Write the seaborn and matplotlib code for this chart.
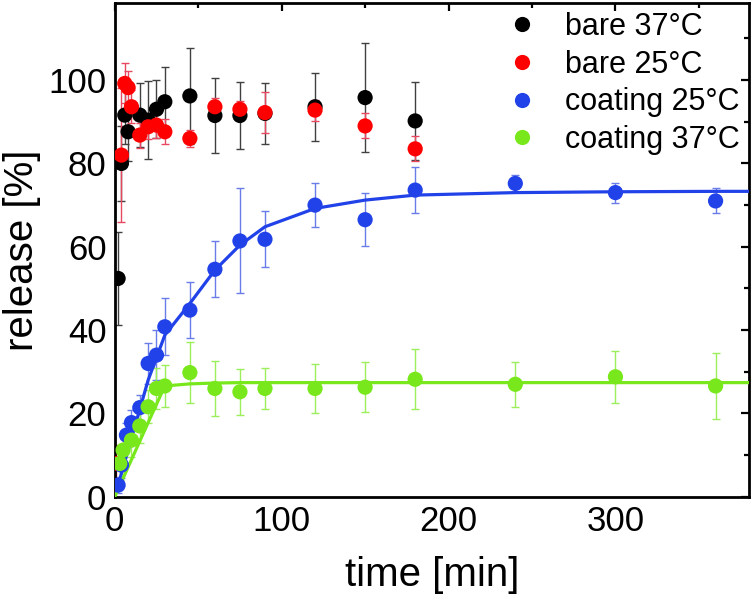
import numpy as np
import pandas as pd
import matplotlib
matplotlib.use('Agg')
import matplotlib.pyplot as plt
import seaborn as sns
from matplotlib.ticker import MultipleLocator

sns.set_style('white')
plt.rcParams['font.family'] = ['Liberation Sans', 'DejaVu Sans']
plt.rcParams['text.color'] = 'black'
plt.rcParams['axes.labelcolor'] = 'black'
plt.rcParams['xtick.color'] = 'black'
plt.rcParams['ytick.color'] = 'black'

# release data
t_bare37 = [2, 4, 6, 8, 15, 20, 25, 30, 45, 60, 75, 90, 120, 150, 180]
bare37 = [52.4, 80, 91.6, 87.6, 91.6, 90.4, 93, 94.8, 96.2, 91.5, 91.5, 92, 93.6, 95.8, 90.2]
bare37_err = [11.2, 9, 7, 7, 7.7, 9.4, 7, 8.3, 11.5, 9, 8, 7.3, 8.2, 13, 9.3]

t_bare25 = [1, 4, 6, 8, 10, 15, 20, 25, 30, 45, 60, 75, 90, 120, 150, 180]
bare25 = [8, 82, 99.2, 98.2, 93.6, 86.8, 88.8, 89.2, 87.6, 86, 93.6, 93, 92.2, 92.8, 89, 83.5]
bare25_err = [4.5, 16, 4.8, 4, 4, 3, 3, 3, 3, 2, 2, 2, 5, 2.5, 3, 3]

t_coat25 = [2, 4, 7, 10, 15, 20, 25, 30, 45, 60, 75, 90, 120, 150, 180, 240, 300, 360]
coat25 = [2.8, 7.6, 14.8, 17.8, 21.4, 32, 34, 40.8, 44.8, 54.6, 61.4, 61.8, 70, 66.5, 73.6, 75.2, 73, 71]
coat25_err = [2, 3, 3, 3, 3, 5, 6, 6.8, 6.7, 6.7, 12.6, 6.7, 5.3, 6.3, 5.6, 2, 2.4, 3]

t_coat37 = [3, 5, 10, 15, 20, 25, 30, 45, 60, 75, 90, 120, 150, 180, 240, 300, 360]
coat37 = [8, 11.2, 13.6, 17, 21.6, 26, 26.6, 29.8, 26, 25.2, 26, 26, 26.3, 28.2, 27, 28.8, 26.6]
coat37_err = [4, 4, 4, 4, 4, 5, 5, 7.4, 6.6, 5.5, 5, 5.8, 6, 7.2, 5.4, 6.3, 8]

# fitted curves
t_fit = [0, 10, 20, 30, 45, 60, 75, 90, 120, 150, 180, 240, 300, 360, 400]
fit25 = [0, 14, 28, 38.8, 46.4, 54.4, 60.4, 64.8, 69.2, 71.2, 72.4, 73, 73.2, 73.3, 73.3]
fit37 = [0, 8.9, 17.8, 26.6, 27.1, 27.3, 27.4, 27.4, 27.4, 27.4, 27.4, 27.4, 27.4, 27.4, 27.4]

labels = ['bare 37°C', 'bare 25°C', 'coating 25°C', 'coating 37°C']
colors = {'bare 37°C': '#000000', 'bare 25°C': '#ff0000',
          'coating 25°C': '#2142e8', 'coating 37°C': '#78e81c'}
err_colors = {'bare 37°C': '#404040', 'bare 25°C': '#e8485f',
              'coating 25°C': '#6a7cea', 'coating 37°C': '#9cee5a'}

series = [
    ('bare 37°C', t_bare37, bare37, bare37_err),
    ('bare 25°C', t_bare25, bare25, bare25_err),
    ('coating 25°C', t_coat25, coat25, coat25_err),
    ('coating 37°C', t_coat37, coat37, coat37_err),
]
df = pd.concat([pd.DataFrame({'time': t, 'release': y, 'err': e, 'sample': name})
                for name, t, y, e in series], ignore_index=True)
fit_df = pd.concat([
    pd.DataFrame({'time': t_fit, 'release': fit25, 'sample': 'coating 25°C'}),
    pd.DataFrame({'time': t_fit, 'release': fit37, 'sample': 'coating 37°C'}),
], ignore_index=True)

fig = plt.figure(figsize=(7.55, 6), dpi=100)
ax = fig.add_axes([0.152, 0.172, 0.840, 0.823])

for name, t, y, e in series:
    ax.errorbar(t, y, yerr=e, fmt='none', ecolor=err_colors[name],
                elinewidth=1, capsize=3.2, capthick=1, zorder=2)

sns.lineplot(data=fit_df, x='time', y='release', hue='sample', palette=colors,
             linewidth=2.3, legend=False, ax=ax, zorder=3, sort=False)
sns.scatterplot(data=df, x='time', y='release', hue='sample', hue_order=labels,
                palette=colors, s=120, linewidth=0, ax=ax, zorder=4)

ax.set_xlim(0, 380)
ax.set_ylim(0, 118.5)
ax.xaxis.set_major_locator(MultipleLocator(100))
ax.xaxis.set_minor_locator(MultipleLocator(50))
ax.yaxis.set_major_locator(MultipleLocator(20))
ax.yaxis.set_minor_locator(MultipleLocator(10))
ax.tick_params(which='both', direction='in', top=True, right=True,
               width=1.6, labelsize=25, color='black', labelcolor='black')
ax.tick_params(which='major', length=6, pad=6)
ax.tick_params(which='minor', length=3.5)
for s in ax.spines.values():
    s.set_linewidth(2)
    s.set_color('black')

ax.set_xlabel('time [min]', fontsize=29, labelpad=13)
ax.set_ylabel('release [%]', fontsize=29, labelpad=5)

leg = ax.legend(loc='upper right', bbox_to_anchor=(1.0, 1.0), frameon=False,
                fontsize=22, handletextpad=0.9, labelspacing=0.25,
                borderaxespad=0, borderpad=0.3, handlelength=1.0)

fig.savefig('out.png', dpi=100)
plt.close(fig)
